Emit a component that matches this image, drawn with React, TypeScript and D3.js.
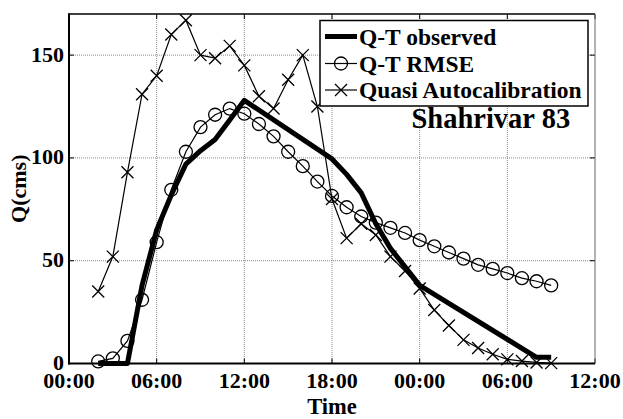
import React from "react";
import * as d3 from "d3";

// Hours since 00:00 on the first day
const obsHours = [2, 4, 5, 6, 7, 8, 9, 10, 11, 12, 18, 19, 20, 21, 22, 23, 24, 32, 33];
const obsQ = [0, 0, 38, 65, 82, 97, 103.5, 109, 118.5, 128, 99.5, 92, 83, 68, 56, 47, 38, 3, 3];

const rmseHours = [2, 3, 4, 5, 6, 7, 8, 9, 10, 11, 12, 13, 14, 15, 16, 17, 18, 19, 20, 21, 22, 23, 24, 25, 26, 27, 28, 29, 30, 31, 32, 33];
const rmseQ = [1, 2.5, 11, 31, 59, 84.5, 103, 115, 121, 124, 121.5, 116.5, 110.5, 103, 96, 88.5, 81.5, 76, 71.5, 68.5, 66, 63.5, 60, 57, 54, 51, 48, 46, 44, 41.5, 40, 38];

const quasiHours = [2, 3, 4, 5, 6, 7, 8, 9, 10, 11, 12, 13, 14, 15, 16, 17, 18, 19, 20, 21, 22, 23, 24, 25, 26, 27, 28, 29, 30, 31, 32, 33];
const quasiQ = [35, 52, 93, 131, 140, 160, 167, 150, 148.5, 154.5, 145, 130, 124, 138, 150, 125, 80, 61, 68, 62.5, 52, 45, 36.5, 26, 18.5, 11.5, 7.5, 4.5, 2, 1.2, 0.5, 0.2];

const xTicks = [0, 6, 12, 18, 24, 30, 36];
const xTickLabels = ["00:00", "06:00", "12:00", "18:00", "00:00", "06:00", "12:00"];
const yTicks = [0, 50, 100, 150];

const legendLabels = ["Q-T observed", "Q-T RMSE", "Quasi Autocalibration"];

const FONT = "'Liberation Serif', 'Times New Roman', serif";

export default function App() {
  const W = 623;
  const H = 419;
  const left = 69, right = 595, top = 14, bottom = 363.5;

  const x = d3.scaleLinear().domain([0, 36]).range([left, right]);
  const y = d3.scaleLinear().domain([0, 170]).range([bottom, top]);

  const line = d3
    .line<[number, number]>()
    .x((d) => x(d[0]))
    .y((d) => y(d[1]));

  const obs = obsHours.map((h, i) => [h, obsQ[i]] as [number, number]);
  const rmse = rmseHours.map((h, i) => [h, rmseQ[i]] as [number, number]);
  const quasi = quasiHours.map((h, i) => [h, quasiQ[i]] as [number, number]);

  const cross = (cx: number, cy: number, s: number, key: string) => (
    <path
      key={key}
      d={`M${cx - s},${cy - s}L${cx + s},${cy + s}M${cx - s},${cy + s}L${cx + s},${cy - s}`}
      stroke="#000"
      strokeWidth={1.3}
      fill="none"
    />
  );

  const legX = 320, legY = 20.5, legW = 268, legH = 85.5;
  const rowY = [36.5, 63.5, 90];

  return (
    <svg
      width={W}
      height={H}
      style={{ position: "absolute", left: 0, top: 0, background: "#fff" }}
      fontFamily={FONT}
      fontWeight="bold"
    >
      <rect x={0} y={0} width={W} height={H} fill="#fff" />

      {/* grid */}
      {xTicks.slice(1, -1).map((t) => (
        <line key={"gx" + t} x1={x(t)} x2={x(t)} y1={top} y2={bottom} stroke="#888" strokeWidth={1} strokeDasharray="1,1" />
      ))}
      {yTicks.slice(1).map((t) => (
        <line key={"gy" + t} x1={left} x2={right} y1={y(t)} y2={y(t)} stroke="#888" strokeWidth={1} strokeDasharray="1,1" />
      ))}

      {/* inward ticks on all four sides */}
      {xTicks.map((t) => (
        <g key={"tx" + t}>
          <line x1={x(t)} x2={x(t)} y1={bottom} y2={bottom - 5} stroke="#000" strokeWidth={1} />
          <line x1={x(t)} x2={x(t)} y1={top} y2={top + 5} stroke="#000" strokeWidth={1} />
        </g>
      ))}
      {yTicks.map((t) => (
        <g key={"ty" + t}>
          <line x1={left} x2={left + 5} y1={y(t)} y2={y(t)} stroke="#000" strokeWidth={1} />
          <line x1={right} x2={right - 5} y1={y(t)} y2={y(t)} stroke="#000" strokeWidth={1} />
        </g>
      ))}

      {/* series: quasi autocalibration */}
      <path d={line(quasi) ?? ""} fill="none" stroke="#000" strokeWidth={1.2} />
      {quasi.map((d, i) => cross(x(d[0]), y(d[1]), 6, "q" + i))}

      {/* series: RMSE */}
      <path d={line(rmse) ?? ""} fill="none" stroke="#000" strokeWidth={1.2} />
      {rmse.map((d, i) => (
        <circle key={"r" + i} cx={x(d[0])} cy={y(d[1])} r={6.5} fill="none" stroke="#000" strokeWidth={1.3} />
      ))}

      {/* series: observed */}
      <path d={line(obs) ?? ""} fill="none" stroke="#000" strokeWidth={5} strokeLinejoin="round" />

      {/* frame */}
      <line x1={left} x2={right} y1={top} y2={top} stroke="#000" strokeWidth={1.5} />
      <line x1={right} x2={right} y1={top} y2={bottom} stroke="#666" strokeWidth={1} />
      <line x1={left} x2={left} y1={top - 0.75} y2={bottom + 1} stroke="#000" strokeWidth={2} />
      <line x1={left - 1} x2={right} y1={bottom} y2={bottom} stroke="#000" strokeWidth={2} />

      {/* tick labels */}
      {xTicks.map((t, i) => (
        <text key={"lx" + t} x={x(t)} y={388} textAnchor="middle" fontSize={22}>
          {xTickLabels[i]}
        </text>
      ))}
      {yTicks.map((t) => (
        <text key={"ly" + t} x={64} y={y(t) - 1} textAnchor="end" dominantBaseline="central" fontSize={22}>
          {t}
        </text>
      ))}

      {/* axis titles */}
      <text x={(left + right) / 2} y={414} textAnchor="middle" fontSize={22.5}>
        Time
      </text>
      <text transform={`translate(26,${(top + bottom) / 2}) rotate(-90)`} textAnchor="middle" fontSize={22}>
        Q(cms)
      </text>

      {/* legend */}
      <rect x={legX} y={legY} width={legW} height={legH} fill="#fff" stroke="#000" strokeWidth={1.5} />
      <line x1={325} x2={357} y1={rowY[0]} y2={rowY[0]} stroke="#000" strokeWidth={5} />
      <line x1={325} x2={357} y1={rowY[1]} y2={rowY[1]} stroke="#000" strokeWidth={1.2} />
      <circle cx={341} cy={rowY[1]} r={6.5} fill="none" stroke="#000" strokeWidth={1.3} />
      <line x1={325} x2={357} y1={rowY[2]} y2={rowY[2]} stroke="#000" strokeWidth={1.2} />
      {cross(341, rowY[2], 6, "legx")}
      {legendLabels.map((s, i) => (
        <text key={s} x={359} y={rowY[i]} dominantBaseline="central" fontSize={23.5}>
          {s}
        </text>
      ))}

      <text x={411.5} y={128} fontSize={28.5}>
        Shahrivar 83
      </text>
    </svg>
  );
}
